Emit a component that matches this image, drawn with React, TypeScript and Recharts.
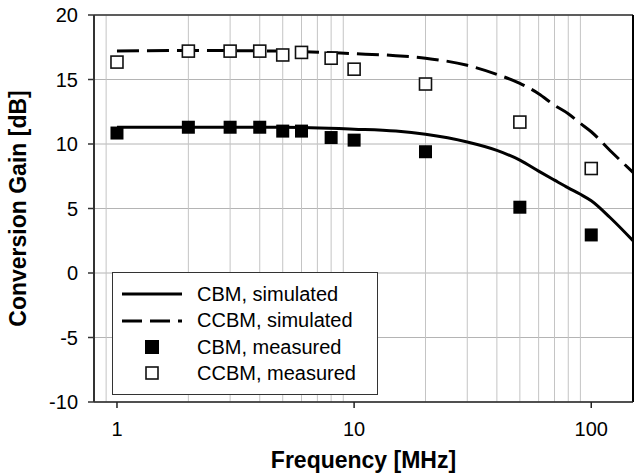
import {
  ComposedChart,
  Line,
  Scatter,
  XAxis,
  YAxis,
  CartesianGrid,
  ReferenceLine,
  Legend,
  Label,
} from "recharts";

const simFreq = [1, 2, 5, 10, 15, 20, 30, 40, 50, 60, 70, 80, 90, 100, 120, 150];
const cbmSim = [11.3, 11.3, 11.3, 11.15, 11.0, 10.75, 10.15, 9.5, 8.75, 7.9, 7.2, 6.6, 6.1, 5.6, 4.3, 2.5];
const ccbmSim = [17.2, 17.25, 17.2, 17.0, 16.85, 16.65, 16.1, 15.4, 14.7, 13.9, 13.0, 12.35, 11.6, 10.95, 9.5, 7.8];

const measFreq = [1, 2, 3, 4, 5, 6, 8, 10, 20, 50, 100];
const cbmMeas = [10.85, 11.3, 11.3, 11.3, 11.0, 11.0, 10.5, 10.3, 9.4, 5.1, 2.95];
const ccbmMeas = [16.35, 17.2, 17.2, 17.2, 16.9, 17.1, 16.65, 15.8, 14.65, 11.7, 8.1];

const xTicks = [1, 10, 100];
const yTicks = [-10, -5, 0, 5, 10, 15, 20];
const minorGrid = [0.9, 2, 3, 4, 5, 6, 7, 8, 9, 20, 30, 40, 50, 60, 70, 80, 90];

const legendLabels = ["CBM, simulated", "CCBM, simulated", "CBM, measured", "CCBM, measured"];

const FONT = "'Liberation Sans', Arial, sans-serif";

const toPoints = (xs: number[], ys: number[]) => xs.map((f, i) => ({ f, g: ys[i] }));

const cbmSimData = toPoints(simFreq, cbmSim);
const ccbmSimData = toPoints(simFreq, ccbmSim);
const cbmMeasData = toPoints(measFreq, cbmMeas);
const ccbmMeasData = toPoints(measFreq, ccbmMeas);

const FilledSquare = (props: any) => {
  const { cx, cy } = props;
  return <rect x={cx - 6.5} y={cy - 6.5} width={13} height={13} fill="#000" />;
};

const OpenSquare = (props: any) => {
  const { cx, cy } = props;
  return (
    <rect x={cx - 6} y={cy - 6} width={12} height={12} fill="#fff" stroke="#111" strokeWidth={1.6} />
  );
};

const LegendBox = () => (
  <div
    style={{
      width: 266,
      height: 123,
      boxSizing: "border-box",
      border: "1.5px solid #333",
      background: "#fff",
      fontFamily: FONT,
      fontSize: 20,
      color: "#000",
      position: "relative",
    }}
  >
    <svg width={266} height={123} style={{ position: "absolute", left: -1.5, top: -1.5 }}>
      <line x1={10} x2={70} y1={22} y2={22} stroke="#000" strokeWidth={3} />
      <line x1={10} x2={70} y1={49} y2={49} stroke="#000" strokeWidth={3} strokeDasharray="20 8" />
      <rect x={33} y={68} width={14} height={14} fill="#000" />
      <rect x={34} y={95} width={12} height={12} fill="#fff" stroke="#111" strokeWidth={1.6} />
      {legendLabels.map((t, i) => (
        <text key={t} x={85} y={22 + i * 26.3} dy="0.35em" fontSize={20} fontFamily={FONT} fill="#000">
          {t}
        </text>
      ))}
    </svg>
  </div>
);

export default function App() {
  return (
    <div style={{ position: "absolute", left: 0, top: 0, width: 642, height: 474, background: "#fff" }}>
      <ComposedChart
        width={642}
        height={474}
        margin={{ top: 15, right: 9, left: 0, bottom: 0 }}
        style={{ fontFamily: FONT }}
      >
        <CartesianGrid vertical={false} stroke="#b4b4b4" strokeWidth={1} />
        {minorGrid.map((v) => (
          <ReferenceLine key={v} x={v} stroke="#c4c4c4" strokeWidth={1} />
        ))}
        <XAxis
          dataKey="f"
          type="number"
          scale="log"
          domain={[0.8, 150]}
          allowDataOverflow
          ticks={xTicks}
          height={72}
          tickSize={6}
          tickMargin={14}
          stroke="#000"
          tick={{ fill: "#000", fontSize: 20, fontFamily: FONT }}
          axisLine={{ stroke: "#222", strokeWidth: 1.5 }}
          tickLine={{ stroke: "#222", strokeWidth: 1.5 }}
        >
          <Label
            value="Frequency [MHz]"
            position="insideBottom"
            offset={6}
            style={{ fontSize: 23, fontWeight: "bold", fill: "#000", fontFamily: FONT }}
          />
        </XAxis>
        <YAxis
          type="number"
          domain={[-10, 20]}
          ticks={yTicks}
          width={94}
          tickSize={6}
          tickMargin={10}
          tick={{ fill: "#000", fontSize: 20, fontFamily: FONT }}
          axisLine={{ stroke: "#333", strokeWidth: 2 }}
          tickLine={{ stroke: "#333", strokeWidth: 1.5 }}
        >
          <Label
            value="Conversion Gain [dB]"
            angle={-90}
            position="insideLeft"
            offset={18}
            style={{ fontSize: 23, fontWeight: "bold", fill: "#000", fontFamily: FONT, textAnchor: "middle" }}
          />
        </YAxis>
        <ReferenceLine y={20} stroke="#333" strokeWidth={1.5} />
        <ReferenceLine x={150} stroke="#000" strokeWidth={2} />
        <Line
          data={cbmSimData}
          dataKey="g"
          type="monotone"
          stroke="#000"
          strokeWidth={3}
          dot={false}
          isAnimationActive={false}
        />
        <Line
          data={ccbmSimData}
          dataKey="g"
          type="monotone"
          stroke="#000"
          strokeWidth={3}
          strokeDasharray="22 8"
          dot={false}
          isAnimationActive={false}
        />
        <Scatter data={cbmMeasData} dataKey="g" shape={<FilledSquare />} isAnimationActive={false} />
        <Scatter data={ccbmMeasData} dataKey="g" shape={<OpenSquare />} isAnimationActive={false} />
        <Legend
          layout="vertical"
          align="center"
          verticalAlign="middle"
          content={() => <LegendBox />}
          wrapperStyle={{ left: 112, top: 272, width: 266, height: 123 }}
        />
      </ComposedChart>
    </div>
  );
}
